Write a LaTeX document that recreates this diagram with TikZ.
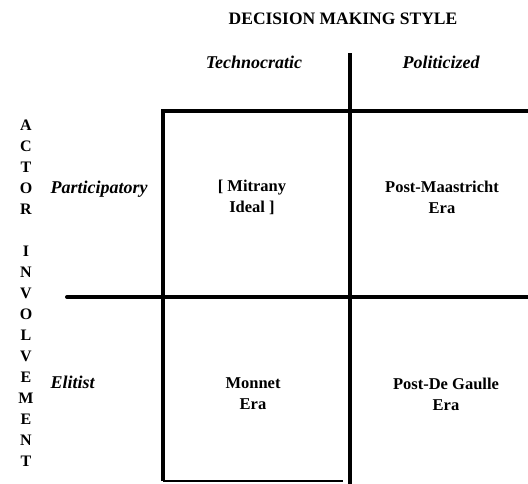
\documentclass[tikz,border=0pt]{standalone}
\usepackage{fontspec}
\setmainfont{Liberation Serif}

\begin{document}
\begin{tikzpicture}[x = 1pt, y = -1pt,
    head/.style = {font = \fontsize{18}{21}\selectfont\bfseries\itshape},
    cell/.style = {font = \fontsize{16.5}{21}\selectfont\bfseries, align = center},
    letter/.style = {font = \fontsize{16}{18}\selectfont\bfseries, inner sep = 0pt},
    rule/.style = {line width = 4pt}]
    \useasboundingbox (0, 0) rectangle (528, 483);
    \node (title)   at (343,  19) [font = \fontsize{17.5}{20}\selectfont\bfseries] {DECISION MAKING STYLE};
    \node (techno)  at (254,  62) [head] {Technocratic};
    \node (polit)   at (441,  62) [head] {Politicized};
    \node (partic)  at ( 47, 189) [head, anchor = west] {Participatory};
    \node (elit)    at ( 47, 382) [head, anchor = west] {Elitist};
    \node (mitrany) at (252, 197) [cell] {[ Mitrany\\ Ideal ]};
    \node (maast)   at (442, 197) [cell] {Post-Maastricht\\ Era};
    \node (monnet)  at (253, 394) [cell] {Monnet\\ Era};
    \node (gaulle)  at (446, 394) [cell] {Post-De Gaulle\\ Era};
    \foreach \ch [count = \i from 0] in {A, C, T, O, R}
      \node (actor\i) at (26, 125 + 21*\i) [letter] {\ch};
    \foreach \ch [count = \i from 0] in {I, N, V, O, L, V, E, M, E, N, T}
      \node (invol\i) at (26, 251 + 21*\i) [letter] {\ch};
    \coordinate (tl) at (163, 111);
    \coordinate (tr) at (530, 111);
    \coordinate (bl) at (163, 481);
    \coordinate (bm) at (343, 481);
    \coordinate (mt) at (350,  53);
    \coordinate (mb) at (350, 485);
    \coordinate (ml) at ( 67, 297);
    \coordinate (mr) at (530, 297);
    \draw [rule] (bl)--(tl)--(tr);
    \draw [rule] (mt)--(mb);
    \draw [rule, line cap = round] (ml)--(mr);
    \draw [line width = 2pt] (bl)--(bm);
  \end{tikzpicture}
\end{document}
